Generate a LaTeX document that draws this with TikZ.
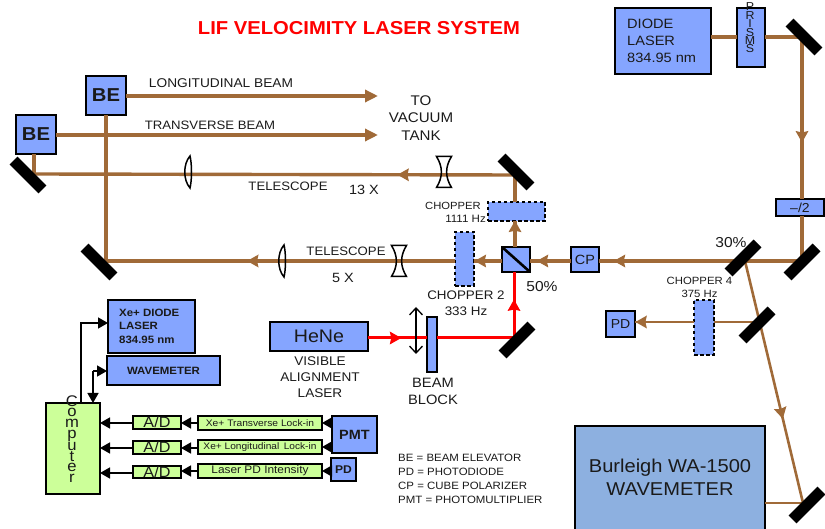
\documentclass[tikz,border=0pt]{standalone}
\usepackage{fontspec}
\setmainfont[FakeStretch=1.08]{Liberation Sans}
\usetikzlibrary{arrows.meta,decorations.markings}
\definecolor{beamc}{HTML}{A06A38}
\definecolor{bluec}{HTML}{85A5FF}
\definecolor{greenc}{HTML}{CCFF99}
\definecolor{wavec}{HTML}{8DB0E0}
\definecolor{inkc}{HTML}{1A1A1A}
\newcommand\fs[2][]{\fontsize{#2}{#2}\selectfont}
\newcommand\bx[6]{\node[#1,minimum width={(#4-#2)*1pt},minimum height={(#5-#3)*1pt},inner sep=0pt,outer sep=0pt,text=inkc] (#6) at ({(#2+#4)/2},{(#3+#5)/2})}
\tikzset{
  x=1pt,y=-1pt,
  bluebox/.style={draw=black,fill=bluec,line width=1.5pt},
  greenbox/.style={draw=black,fill=greenc,line width=1.5pt},
  chopbox/.style={draw=black,fill=bluec,line width=1.5pt,dash pattern=on 3.5pt off 2.5pt},
  mirror/.style={fill=black,minimum width=41pt,minimum height=11pt,inner sep=0pt,outer sep=0pt},
  beam/.style={draw=beamc,color=beamc,line width=3.4pt},
  thinbeam/.style={draw=beamc,color=beamc,line width=2.6pt},
  redbeam/.style={draw=red,color=red,line width=3pt},
  mid/.style={postaction={decorate,decoration={markings,mark=at position #1 with {\fill (5.5pt,0pt) -- (-6pt,6.5pt) -- (-4.5pt,0pt) -- (-6pt,-6.5pt) -- cycle;}}}},
  endhead/.style={-{Triangle[length=13pt,width=12pt]}},
  sig/.style={draw=black,line width=1.5pt},
  sighead/.style={sig,-{Triangle[length=10pt,width=11pt]}},
  lbl/.style={text=inkc,inner sep=0pt,align=center},
  optic/.style={draw=black,line width=1.5pt},
  sz/.style 2 args={font=\fontsize{#1}{#2}\selectfont},
  bsz/.style 2 args={font=\fontsize{#1}{#2}\selectfont\bfseries},
}
\newcommand\convexlens[2]{\draw[optic,xshift=#1pt,yshift=-#2pt] (2,-16) .. controls (-5,-8) and (-5,8) .. (2,16) .. controls (4,8) and (4,-8) .. (2,-16) -- cycle;}
\newcommand\concavelens[2]{\draw[optic,xshift=#1pt,yshift=-#2pt] (-7.5,-15.5) -- (7.5,-15.5) .. controls (1,-5) and (1,5) .. (7.5,15.5) -- (-7.5,15.5) .. controls (-1,5) and (-1,-5) .. (-7.5,-15.5) -- cycle;}
\begin{document}
\begin{tikzpicture}
\useasboundingbox (0,0) rectangle (825,529);
\clip (0,0) rectangle (825,529);
% beam vertices
\coordinate (pA) at (802,37);
\coordinate (pB) at (802,261);
\coordinate (pC) at (745,261);
\coordinate (pD) at (760,322);
\coordinate (pE) at (803,503);
\coordinate (pF) at (515,175);
\coordinate (pG) at (514,338);
\coordinate (pH) at (34,174);
\coordinate (pI) at (106,261);
\coordinate (tipL) at (378,96);
\coordinate (tipT) at (378,135);
\coordinate (arU) at (416,307);
\coordinate (arD) at (416,354);
% boxes
\bx{bluebox}{615}{8}{711}{74}{diode} {};
\bx{bluebox}{737}{8}{765}{67}{prisms} {};
\bx{bluebox}{776}{199}{824}{216}{halfw} {\fs{13}--/2};
\bx{bluebox}{571}{247}{599}{272}{cp} {\fs{13.4}CP};
\bx{bluebox}{502}{247}{530}{272}{cube} {};
\bx{chopbox}{455}{232}{474}{286}{chopB} {};
\bx{chopbox}{488}{202}{545}{221}{chopA} {};
\bx{chopbox}{694}{300}{714}{355}{chopD} {};
\bx{bluebox}{606}{311}{635}{337}{pdA} {\fs{13}PD};
\bx{bluebox}{16}{115}{56}{154}{beA} {\fs{18.7}\bfseries BE};
\bx{bluebox}{86}{76}{126}{115}{beB} {\fs{18.7}\bfseries BE};
\bx{bluebox}{270}{322}{368}{351}{hene} {\fs{18.2}HeNe};
\bx{bluebox}{427}{317}{437}{372}{block} {};
\bx{draw=black,fill=wavec,line width=1.5pt}{575}{426}{765}{545}{burl} {};
\bx{bluebox}{108}{300}{195}{353}{xed} {};
\bx{bluebox}{107}{356}{220}{385}{wm} {\fs{10.6}\bfseries WAVEMETER};
\bx{greenbox}{46}{403}{100}{494}{comp} {};
\bx{greenbox}{133}{416}{181}{429}{adA} {};
\bx{greenbox}{133}{441}{181}{454}{adB} {};
\bx{greenbox}{133}{466}{181}{478}{adC} {};
\bx{greenbox}{198}{416}{322}{430}{liA} {\fs{9.5}Xe+ Transverse Lock-in};
\bx{greenbox}{198}{440}{322}{454}{liB} {\fs{9.4}Xe+ Longitudinal\, Lock-in};
\bx{greenbox}{198}{464}{322}{478}{liC} {\fs{11}Laser PD Intensity};
\bx{bluebox}{332}{416}{377}{453}{pmt} {\fs{13.4}\bfseries PMT};
\bx{bluebox}{331}{458}{356}{481}{pdB} {\fs{11.2}\bfseries PD};
% beams
\draw[beam] (diode.east |- pA) -- (prisms.west |- pA);
\draw[beam] (prisms.east |- pA) -- (pA);
\draw[beam,mid=0.617] (pA) -- (halfw.north -| pA);
\draw[beam] (halfw.south -| pB) -- (pB);
\draw[beam,mid=0.9] (pB) -- (cp.east |- pB);
\draw[beam,mid=0.7] (cp.west |- pB) -- (cube.east |- pB);
\draw[beam,mid=0.78] (cube.west |- pB) -- (chopB.east |- pB);
\draw[beam,mid=0.58] (chopB.west |- pB) -- (pI);
\draw[beam,mid=0.8] (cube.north -| pF) -- (chopA.south -| pF);
\draw[beam] (chopA.north -| pF) -- (pF);
\draw[beam,mid=0.233] (pF) -- (pH);
\draw[beam] (pH) -- (beA.south -| pH);
\draw[beam] (pI) -- (beB.south -| pI);
\draw[beam,endhead] (beB.east |- tipL) -- (tipL);
\draw[beam,endhead] (beA.east |- tipT) -- (tipT);
\draw[thinbeam,mid=0.63] (pC) -- (pE);
\draw[thinbeam] (pE) -- (burl.east |- pE);
\draw[thinbeam] (pD) -- (chopD.east |- pD);
\draw[thinbeam,mid=0.9] (chopD.west |- pD) -- (pdA.east |- pD);
\draw[redbeam,mid=0.47] (hene.east |- pG) -- (block.west |- pG);
\draw[redbeam] (block.east |- pG) -- (pG);
\draw[redbeam,mid=0.5] (pG) -- (cube.south -| pG);
% mirrors
\node[mirror,rotate=-45] (mA) at (804,37) {};
\node[mirror,rotate=45] (mB) at (802,262) {};
\node[mirror,rotate=45] (mC) at (743,258) {};
\node[mirror,rotate=45] (mD) at (757,325) {};
\node[mirror,rotate=45] (mE) at (807,505) {};
\node[mirror,rotate=-45] (mF) at (516,172) {};
\node[mirror,rotate=45] (mG) at (517,340) {};
\node[mirror,rotate=-45] (mH) at (28,175) {};
\node[mirror,rotate=-45] (mI) at (99,262) {};
% cube diagonal
\draw[line width=2.6pt] (cube.north west) -- (cube.south east);
% lenses
\convexlens{188}{172}
\concavelens{444}{172}
\convexlens{282}{261}
\concavelens{399}{261}
% double arrow
\draw[line width=1.3pt,{Straight Barb[length=7pt,width=13pt]}-{Straight Barb[length=7pt,width=13pt]}] (arU) -- (arD);
% signal lines
\coordinate (cA) at (81,403);
\coordinate (cB) at (81,323);
\coordinate (cC) at (93,371);
\coordinate (cD) at (93,403);
\draw[sighead] (cA) -- (cB) -- (xed.west |- cB);
\draw[sighead] (cC) -- (wm.west |- cC);
\draw[sighead] (cC) -- (cD);
\draw[sighead] (adA.west |- 0,423) -- (comp.east |- 0,423);
\draw[sighead] (adB.west |- 0,448) -- (comp.east |- 0,448);
\draw[sighead] (adC.west |- 0,473) -- (comp.east |- 0,473);
\draw[sighead] (liA.west |- 0,423) -- (adA.east |- 0,423);
\draw[sighead] (liB.west |- 0,448) -- (adB.east |- 0,448);
\draw[sighead] (liC.west |- 0,471) -- (adC.east |- 0,471);
\draw[sighead] (pmt.west |- 0,423) -- (liA.east |- 0,423);
\draw[sighead] (pmt.west |- 0,447) -- (liB.east |- 0,447);
\draw[sighead] (pdB.west |- 0,471) -- (liC.east |- 0,471);
% texts
\node[lbl,text=red,bsz={18.7}{20}] (title) at (359,28) {LIF VELOCIMITY LASER SYSTEM};
\node[lbl,anchor=west,align=left,sz={13.5}{17}] (tdiode) at (627,41) {DIODE\\LASER\\834.95 nm};
\node[lbl,sz={11.5}{8.4}] (tprism) at (750,28) {P\\R\\I\\S\\M\\S};
\node[lbl,sz={12.7}{14}] (tlong) at (221,83) {LONGITUDINAL BEAM};
\node[lbl,sz={12.2}{14}] (ttrans) at (210,125) {TRANSVERSE BEAM};
\node[lbl,sz={14}{17.5}] (ttank) at (421,118) {TO\\VACUUM\\TANK};
\node[lbl,sz={12.2}{14}] (ttelA) at (288,186) {TELESCOPE};
\node[lbl,sz={13.4}{15}] (tx13) at (364,190) {13 X};
\node[lbl,sz={10.4}{12}] (tchopA) at (453,206) {CHOPPER};
\node[lbl,anchor=east,sz={10.7}{12}] (thzA) at (486,219) {1111 Hz};
\node[lbl,sz={12.2}{14}] (ttelB) at (346,251) {TELESCOPE};
\node[lbl,sz={13.4}{15}] (tx5) at (343,278) {5 X};
\node[lbl,sz={12.4}{15.5}] (tchopB) at (466,303) {CHOPPER 2\\333 Hz};
\node[lbl,sz={14.4}{16}] (t50) at (542,287) {50\%};
\node[lbl,sz={14.4}{16}] (t30) at (731,243) {30\%};
\node[lbl,sz={10.5}{13}] (tchopD) at (699.5,287) {CHOPPER 4\\375 Hz};
\node[lbl,sz={12.6}{15.8}] (tvis) at (320,377) {VISIBLE\\ALIGNMENT\\LASER};
\node[lbl,sz={13.6}{17}] (tblock) at (433,391) {BEAM\\BLOCK};
\node[lbl,anchor=west,align=left,sz={10.6}{13.8}] (tlegend) at (398,479) {BE = BEAM ELEVATOR\\PD = PHOTODIODE\\CP = CUBE POLARIZER\\PMT = PHOTOMULTIPLIER};
\node[lbl,sz={18.6}{23}] (tburl) at (670,477) {Burleigh WA-1500\\WAVEMETER};
\node[lbl,anchor=west,align=left,bsz={10.6}{13.6}] (txed) at (119,326) {Xe+ DIODE\\LASER\\834.95 nm};
\node[lbl,sz={15.4}{10.7}] (tcomp) at (72,439) {C\\o\\m\\p\\u\\t\\e\\r};
\node[lbl,sz={15}{16}] (tadA) at (157,422) {A/D};
\node[lbl,sz={15}{16}] (tadB) at (157,447) {A/D};
\node[lbl,sz={15}{16}] (tadC) at (157,472) {A/D};
\end{tikzpicture}
\end{document}
